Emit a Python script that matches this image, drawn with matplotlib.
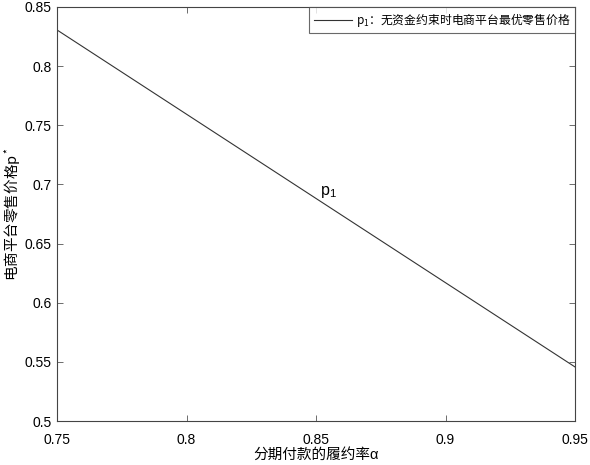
import matplotlib
matplotlib.use("Agg")
import matplotlib.pyplot as plt
import numpy as np

FAM = ['Liberation Sans', 'DejaVu Sans', 'Noto Sans CJK SC']
plt.rcParams['font.family'] = FAM

alpha = [0.75, 0.95]
p1 = [0.8306, 0.5457]
xticks = [0.75, 0.8, 0.85, 0.9, 0.95]
yticks = [0.5, 0.55, 0.6, 0.65, 0.7, 0.75, 0.8, 0.85]
legend_label = r'$\mathregular{p_1}$：无资金约束时电商平台最优零售价格'
curve_label = r'$\mathregular{p_1}$'
label_pos = (0.8515, 0.691)
xlabel = '分期付款的履约率α'
ylabel = r'电商平台零售价格$\mathregular{p^*}$'

fig = plt.figure(figsize=(5.9, 4.65), dpi=100)
ax = fig.add_axes([57/590, 1-421/465, (575-57)/590, (421-7)/465])
ax.plot(alpha, p1, color='#333333', lw=0.8, label=legend_label)
ax.set_xlim(0.75, 0.95)
ax.set_ylim(0.5, 0.85)
ax.set_xticks(xticks)
ax.set_xticklabels([f'{v:g}' for v in xticks])
ax.set_yticks(yticks)
ax.set_yticklabels([f'{v:g}' for v in yticks])
ax.tick_params(direction='in', top=True, right=True, labelsize=10, length=4,
               width=0.6, color='#555555')
ax.tick_params(axis='x', pad=8.5)
ax.tick_params(axis='y', pad=4)
for s in ax.spines.values():
    s.set_linewidth(0.8)
    s.set_color('#444444')
ax.text(label_pos[0], label_pos[1], curve_label, fontsize=11.5)
ax.set_xlabel(xlabel, fontsize=10.5, va='center')
ax.xaxis.set_label_coords(0.5, (421-455)/414)
ax.set_ylabel(ylabel, fontsize=10.5, family='Noto Sans CJK SC', va='center')
ax.yaxis.set_label_coords((13-57)/518, 0.5)
leg = ax.legend(loc='upper right', prop={'family': 'Noto Sans CJK SC', 'size': 8.5},
                frameon=True, fancybox=False,
                edgecolor='#444444', borderaxespad=0, handlelength=3.3,
                borderpad=0.35, handletextpad=0.3)
leg.get_frame().set_linewidth(0.8)
fig.savefig('out.png', dpi=100)
